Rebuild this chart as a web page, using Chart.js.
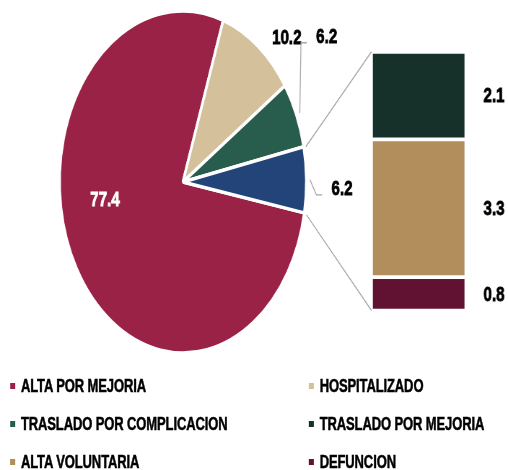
<!DOCTYPE html>
<html>
<head>
<meta charset="utf-8">
<script src="https://cdn.jsdelivr.net/npm/chart.js@4/dist/chart.umd.min.js"></script>
<style>
html, body { margin: 0; padding: 0; background: #fff; overflow: hidden; }
#wrap { position: absolute; left: 0; top: 0; width: 704px; height: 470px; transform: scaleX(0.7216); transform-origin: 0 0; }
#wrap canvas { position: absolute; left: 0; top: 0; }
.leg { position: absolute; height: 20px; line-height: 20px; font: bold 18px "Liberation Sans", Arial, sans-serif; color: #000; white-space: nowrap; -webkit-text-stroke: 0.5px #000; letter-spacing: -0.15px; }
.leg span { position: absolute; top: 7px; width: 7px; height: 6px; }
</style>
</head>
<body>
<div id="wrap">
  <canvas id="pie" width="704" height="470"></canvas>
  <canvas id="bar" width="704" height="470"></canvas>
  <div id="legend"></div>
</div>
<script>
// pie part (last slice is the one broken out into the bar)
const pieLabels = ['ALTA POR MEJORIA', 'HOSPITALIZADO', 'TRASLADO POR COMPLICACION', 'OTROS'];
const pieValues = [77.4, 10.2, 6.2, 6.2];
const pieColors = ['#9B2247', '#D4C19C', '#285C4D', '#234478'];

// bar part, bottom to top
const barLabels = ['DEFUNCION', 'ALTA VOLUNTARIA', 'TRASLADO POR MEJORIA'];
const barValues = [0.8, 3.3, 2.1];
const barColors = ['#611232', '#B38E5D', '#163129'];

const fontFamily = '"Liberation Sans", Arial, sans-serif';
const lineColor = '#A6A6A6';
const deg = Math.PI / 180;

// label anchors: radius as a fraction of the pie radius, angle in degrees
const pieLabelPos = [
  { r: 0.64, a: 170.5, color: '#fff', leader: false },
  { r: 1.19, a: -45, color: '#000', leader: false },
  { r: 1.44, a: -36, color: '#000', leader: true },
  { r: 1.29, a: 1.9, color: '#000', leader: true }
];

function boldText(ctx, txt, x, y, color) {
  ctx.fillStyle = color;
  ctx.strokeStyle = color;
  ctx.lineWidth = 0.8;
  ctx.fillText(txt, x, y);
  ctx.strokeText(txt, x, y);
}

const pieLabelPlugin = {
  id: 'pieLabels',
  afterDraw(chart) {
    const ctx = chart.ctx;
    const arcs = chart.getDatasetMeta(0).data;
    const vals = chart.data.datasets[0].data;
    ctx.save();
    ctx.font = 'bold 21px ' + fontFamily;
    ctx.textBaseline = 'middle';
    ctx.textAlign = 'center';
    arcs.forEach((arc, i) => {
      const p = arc.getProps(['x', 'y', 'startAngle', 'endAngle', 'outerRadius'], true);
      const pos = pieLabelPos[i];
      const lx = p.x + p.outerRadius * pos.r * Math.cos(pos.a * deg);
      const ly = p.y + p.outerRadius * pos.r * Math.sin(pos.a * deg);
      const txt = vals[i].toFixed(1);
      boldText(ctx, txt, lx, ly, pos.color);
      if (pos.leader) {
        const w = ctx.measureText(txt).width;
        const mid = (p.startAngle + p.endAngle) / 2;
        const x0 = p.x + (p.outerRadius + 5) * Math.cos(mid);
        const y0 = p.y + (p.outerRadius + 5) * Math.sin(mid);
        const x2 = lx - w / 2 - 13;
        const y2 = ly + 5.5;
        ctx.strokeStyle = lineColor;
        ctx.lineWidth = 1.3;
        ctx.beginPath();
        ctx.moveTo(x0, y0);
        ctx.lineTo(x2 - 8, y2);
        ctx.lineTo(x2, y2);
        ctx.stroke();
      }
    });
    ctx.restore();
  }
};

const pieChart = new Chart(document.getElementById('pie'), {
  type: 'pie',
  data: {
    labels: pieLabels,
    datasets: [{
      data: pieValues,
      backgroundColor: pieColors,
      borderColor: '#fff',
      borderWidth: 3.5
    }]
  },
  options: {
    responsive: false,
    animation: false,
    rotation: 100.4,
    layout: { padding: { top: 9.25, bottom: 115.25, left: 80.75, right: 277.75 } },
    plugins: { legend: { display: false }, tooltip: { enabled: false } }
  },
  plugins: [pieLabelPlugin]
});

const barExtrasPlugin = {
  id: 'barExtras',
  afterDraw(chart) {
    const ctx = chart.ctx;
    ctx.save();
    // value labels right of each block
    ctx.font = 'bold 21px ' + fontFamily;
    ctx.textAlign = 'center';
    ctx.textBaseline = 'middle';
    chart.data.datasets.forEach((ds, i) => {
      const bar = chart.getDatasetMeta(i).data[0];
      const b = bar.getProps(['x', 'y', 'base', 'width'], true);
      boldText(ctx, ds.data[0].toFixed(1), b.x + b.width / 2 + 39, (b.y + b.base) / 2 + 1, '#000');
    });
    // connector lines from the broken-out slice to the bar
    const arc = pieChart.getDatasetMeta(0).data[pieValues.length - 1];
    const a = arc.getProps(['x', 'y', 'startAngle', 'endAngle', 'outerRadius'], true);
    const top = chart.getDatasetMeta(barValues.length - 1).data[0].getProps(['x', 'y', 'width'], true);
    const bottom = chart.getDatasetMeta(0).data[0].getProps(['x', 'base', 'width'], true);
    ctx.strokeStyle = lineColor;
    ctx.lineWidth = 1.3;
    ctx.beginPath();
    ctx.moveTo(a.x + a.outerRadius * Math.cos(a.startAngle) + 3, a.y + a.outerRadius * Math.sin(a.startAngle));
    ctx.lineTo(top.x - top.width / 2, top.y);
    ctx.moveTo(a.x + a.outerRadius * Math.cos(a.endAngle) + 3, a.y + a.outerRadius * Math.sin(a.endAngle) + 2);
    ctx.lineTo(bottom.x - bottom.width / 2, bottom.base);
    ctx.stroke();
    ctx.restore();
  }
};

const barChart = new Chart(document.getElementById('bar'), {
  type: 'bar',
  data: {
    labels: [''],
    datasets: barLabels.map((label, i) => ({
      label: label,
      data: [barValues[i]],
      backgroundColor: barColors[i],
      borderColor: '#fff',
      borderWidth: 2.25,
      borderSkipped: false,
      barPercentage: 1,
      categoryPercentage: 1
    }))
  },
  options: {
    responsive: false,
    animation: false,
    layout: { padding: { top: 51.75, bottom: 159.45, left: 514.8, right: 58.4 } },
    scales: {
      x: { stacked: true, display: false },
      y: { stacked: true, display: false, min: 0, max: 6.2 }
    },
    plugins: { legend: { display: false }, tooltip: { enabled: false } }
  },
  plugins: [barExtrasPlugin]
});

// legend, two columns, row by row
const legendLabels = pieLabels.slice(0, 3).concat(barLabels.slice().reverse());
const legendColors = pieColors.slice(0, 3).concat(barColors.slice().reverse());
const legendEl = document.getElementById('legend');
legendLabels.forEach((label, i) => {
  const col = i % 2, row = Math.floor(i / 2);
  const item = document.createElement('div');
  item.className = 'leg';
  item.style.left = (col === 0 ? 14 : 428) + 'px';
  item.style.top = (376 + row * 38) + 'px';
  item.style.paddingLeft = '15px';
  const mark = document.createElement('span');
  mark.style.left = '0px';
  mark.style.background = legendColors[i];
  item.appendChild(mark);
  item.appendChild(document.createTextNode(label));
  legendEl.appendChild(item);
});
</script>
</body>
</html>
